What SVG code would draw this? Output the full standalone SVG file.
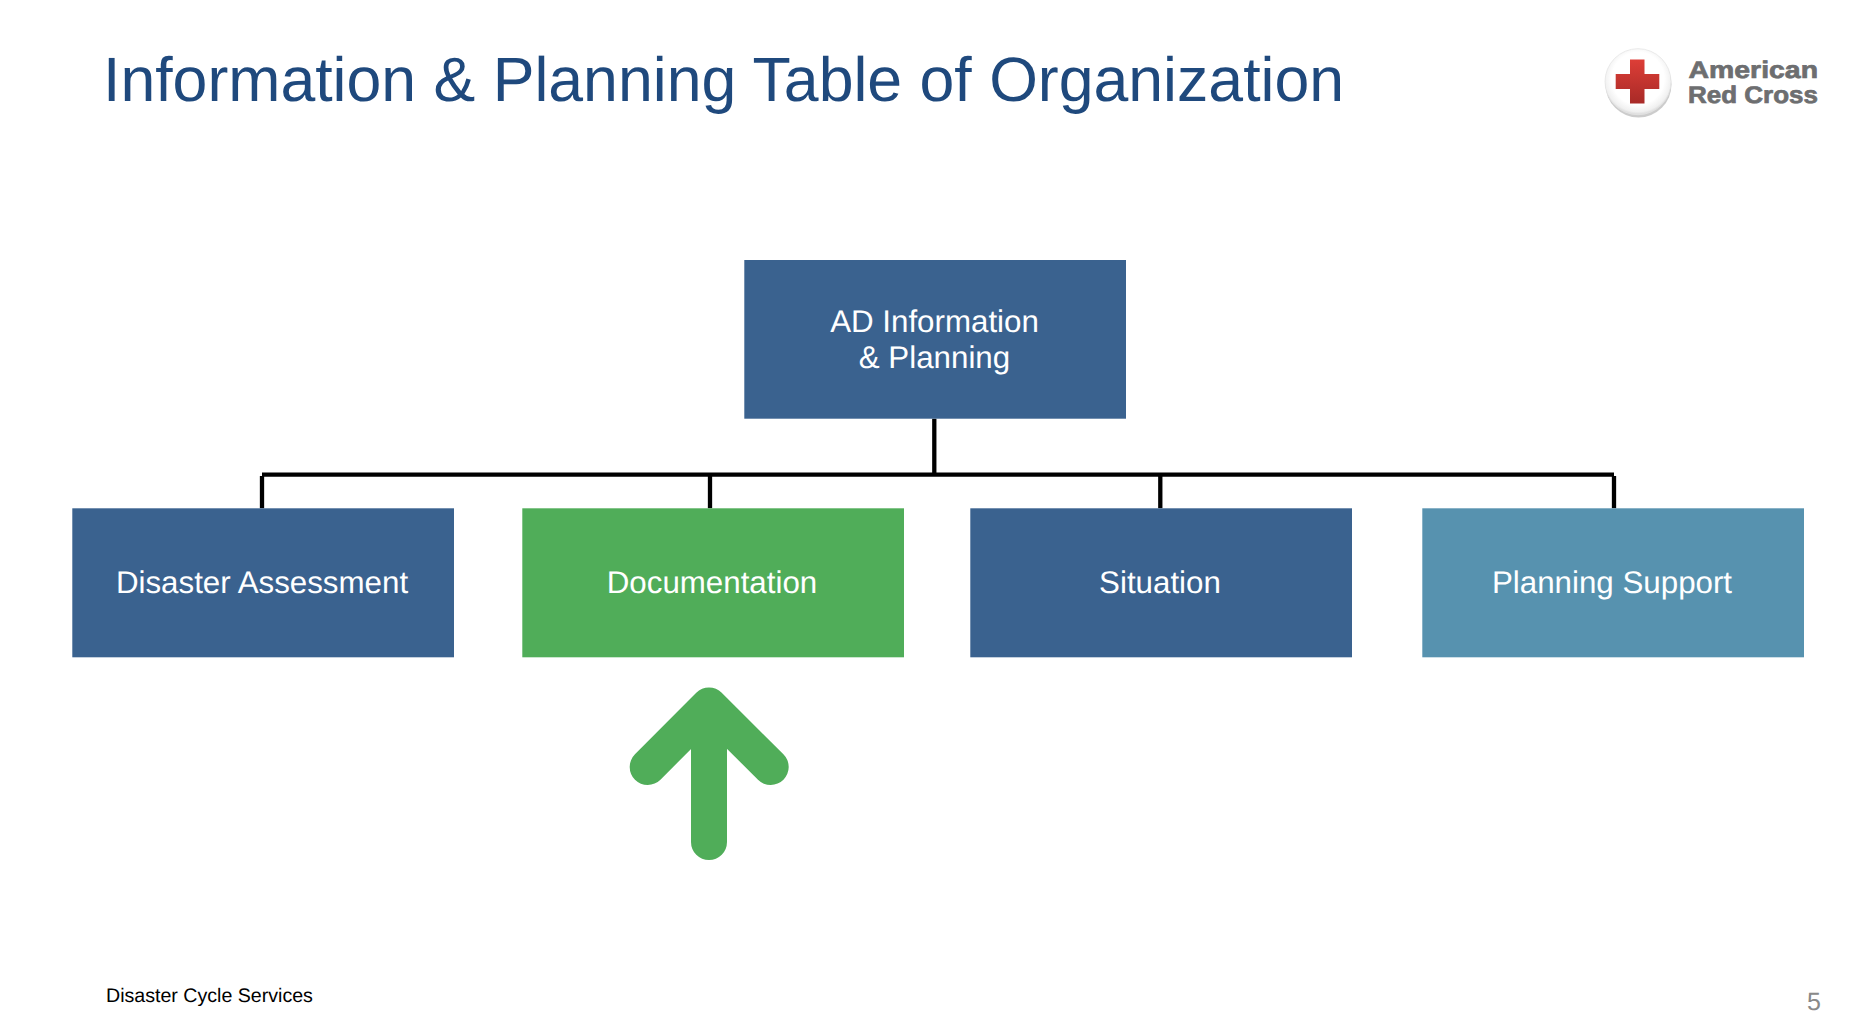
<svg xmlns="http://www.w3.org/2000/svg" width="1860" height="1032" viewBox="0 0 1860 1032">
<style>
text{font-family:"Liberation Sans",Arial,sans-serif;text-rendering:geometricPrecision}
.n{fill:#3a628f}
.l{fill:#fff;font-size:31.300px;text-anchor:middle}
.c{stroke:#000;stroke-width:4.300;fill:none}
.a{stroke:#50ad59;stroke-width:36;fill:none;stroke-linecap:round;stroke-linejoin:round}
.lg{fill:#6d6e70;stroke:#6d6e70;stroke-width:0.700px;font-weight:bold;font-size:24px}
</style>
<defs>
<radialGradient id="b" cx="0.5" cy="0.45" r="0.55"><stop offset="0.72" stop-color="#fff"/><stop offset="0.92" stop-color="#f0f0f0"/><stop offset="1" stop-color="#d8d8d8"/></radialGradient>
<linearGradient id="r" x1="0" y1="0" x2="0" y2="1"><stop offset="0" stop-color="#dd3e37"/><stop offset="1" stop-color="#a82a27"/></linearGradient>
</defs>
<rect width="1860" height="1032" fill="#fff"/>
<text x="103" y="101" font-size="62.600" fill="#1f497d">Information &amp; Planning Table of Organization</text>
<g id="logo">
<circle cx="1638.500" cy="84.500" r="33" fill="#aaa" opacity="0.6"/>
<circle cx="1638" cy="81.700" r="33" fill="url(#b)" stroke="#e4e4e4" stroke-width="0.800"/>
<path d="M1630 59.500h14.500v14.500h14.800v15h-14.800v14.500h-14.500v-14.500h-14.300v-15h14.300z" fill="url(#r)"/>
<text class="lg" x="1688.500" y="78.300" textLength="129.500" lengthAdjust="spacingAndGlyphs">American</text>
<text class="lg" x="1688" y="103.300" textLength="130" lengthAdjust="spacingAndGlyphs">Red Cross</text>
</g>
<g id="connectors">
<path class="c" d="M934.300 418.700V473"/>
<path class="c" d="M262 474.700H1614"/>
<path class="c" d="M262 476V508.300M710 476V508.300M1160.300 476V508.300M1614 476V508.300"/>
</g>
<g id="ad"><rect class="n" x="744.300" y="260" width="381.700" height="158.700"/><text class="l" x="934.500" y="331.700">AD Information</text><text class="l" x="934.500" y="368.300">&amp; Planning</text></g>
<g id="assessment"><rect class="n" x="72.300" y="508.300" width="381.700" height="149"/><text class="l" x="262" y="592.700">Disaster Assessment</text></g>
<g id="documentation"><rect fill="#50ad59" x="522.300" y="508.300" width="381.700" height="149"/><text class="l" x="712" y="592.700">Documentation</text></g>
<g id="situation"><rect class="n" x="970.300" y="508.300" width="381.700" height="149"/><text class="l" x="1160" y="592.700">Situation</text></g>
<g id="support"><rect fill="#5792af" x="1422.300" y="508.300" width="381.700" height="149"/><text class="l" x="1612" y="592.700">Planning Support</text></g>
<g id="arrow"><path class="a" d="M647.700 767L709 705.500L770.700 767M709 705.500V842"/></g>
<text x="106" y="1002" font-size="19.600" fill="#000">Disaster Cycle Services</text>
<text x="1807" y="1010" font-size="25" fill="#898989">5</text>
</svg>
